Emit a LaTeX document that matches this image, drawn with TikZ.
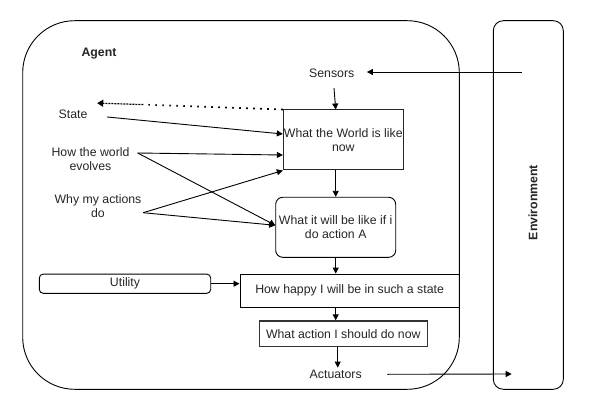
\documentclass[tikz,border=0pt]{standalone}
\usepackage{fontspec}
\setmainfont{Liberation Sans}
\usetikzlibrary{calc,arrows.meta}
\begin{document}
\begin{tikzpicture}[x=1pt,y=-1pt,
  every node/.style={font=\fontsize{12.3}{14}\selectfont, text=black!85, inner sep=0pt, align=center},
  lbl/.style={minimum height=14},
  boxr/.style={draw=black!85, line width=1pt},
  boxround/.style={draw=black, line width=0.9pt, rounded corners=7},
  conn/.style={draw=black, line width=0.9pt, -{Triangle[length=6pt,width=6pt]}},
  dotconn/.style={draw=black, line width=1.6pt, dash pattern=on 1.6pt off 5.4pt},
  densedot/.style={draw=black, line width=1.2pt, dash pattern=on 2pt off 1pt, -{Triangle[length=6pt,width=7pt]}},
]
\useasboundingbox (0,0) rectangle (593,411);
\fill[white] (0,0) rectangle (593,411);

% Agent container
\draw[line width=0.9pt, rounded corners=52] (22.7,20.7) rectangle (459.3,389.3);
\node[font=\fontsize{12.3}{14}\selectfont\bfseries] (agent) at (99,54) {Agent};

% Environment
\node[draw=black, line width=0.9pt, rounded corners=10, minimum width=70, minimum height=368.6] (env) at (528.3,205) {};
\node[font=\fontsize{12.3}{14}\selectfont\bfseries, rotate=90] (envlbl) at (533,202.5) {Environment};

% Text labels
\node[lbl, minimum width=70, minimum height=30] (sensors) at (331.7,73) {Sensors};
\node[lbl, minimum width=68, minimum height=20] (state) at (73,114) {State};
\node[minimum width=94] (evolves) at (90.5,159.5) {How the world\\evolves};
\node[minimum width=90] (why) at (98,206) {Why my actions\\do};
\node[minimum width=103, minimum height=13] (act) at (335.7,374.3) {Actuators};

% Boxes
\node[boxr, minimum width=120, minimum height=60] (box1) at (343.3,140) {What the World is like\\now};
\node[boxround, minimum width=120, minimum height=60] (box2) at (335.7,227.3) {What it will be like if i\\do action A};
\node[draw=black, line width=0.9pt, minimum width=219.3, minimum height=33.3] (box3) at (349.6,290.7) {How happy I will be in such a state};
\node[draw=black, line width=0.9pt, rounded corners=4, minimum width=171.4, minimum height=19.3] (util) at (125,283.7) {Utility};
\node[draw=black!80, line width=1.3pt, minimum width=168, minimum height=25.7] (box4) at (343.3,333.8) {What action I should do now};

% Free ends
\coordinate (envin) at (521.7,72);
\coordinate (envout) at (511.7,374);
\coordinate (dotmid) at (143.3,104.6);

% Connectors
\draw[conn] (envin) -- (sensors.east |- envin);
\draw[conn] ($(sensors.south)+(2.3,0)$) -- (box1.north -| box2.north);
\draw[dotconn] (box1.north west) -- (dotmid);
\draw[densedot] (dotmid) -- ($(state.north east)+(-10,-0.7)$);
\draw[conn] ($(state.east)+(0,3)$) -- ($(box1.west)+(0,-6)$);
\draw[conn] ($(evolves.east)+(0,-6.5)$) -- ($(box1.west)+(0,15)$);
\draw[conn] ($(evolves.east)+(0,-6.5)$) -- ($(box2.west)+(0,-2)$);
\draw[conn] ($(why.east)+(0,6.7)$) -- (box1.south west);
\draw[conn] ($(why.east)+(0,6.7)$) -- ($(box2.west)+(0,-2)$);
\draw[conn] (box1.south -| box2.north) -- (box2.north);
\draw[conn] (box2.south) -- (box2.south |- box3.north);
\draw[conn] (util.east) -- (box3.west |- util.east);
\draw[conn] (box2.south |- box3.south) -- (box2.south |- box4.north);
\draw[conn] (act.north |- box4.south) ++(2,0) coordinate (b4s) -- (b4s |- act.north);
\draw[conn] (act.east) -- (envout);
\end{tikzpicture}
\end{document}
